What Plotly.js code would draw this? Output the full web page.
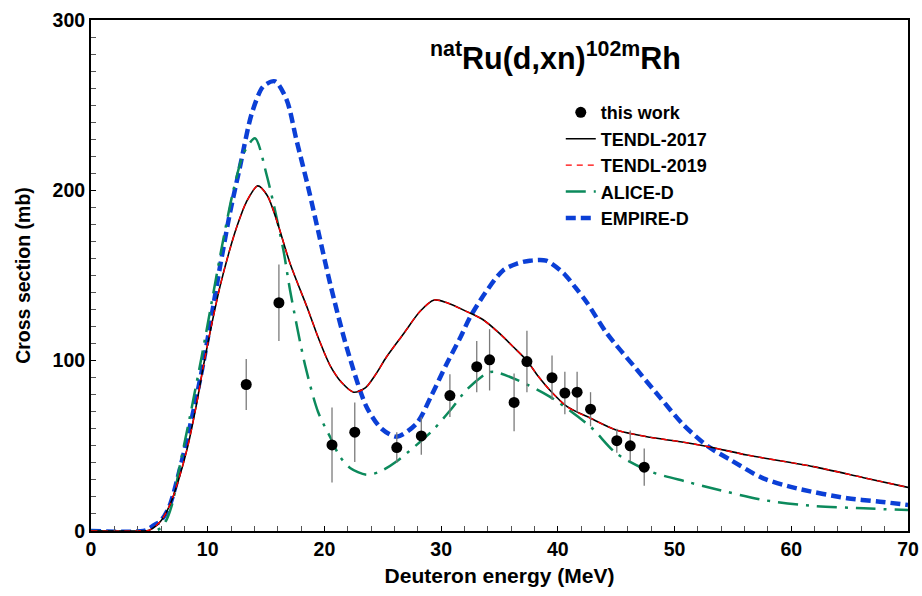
<!DOCTYPE html>
<html>
<head>
<meta charset="utf-8">
<script src="https://cdn.plot.ly/plotly-3.0.1.min.js"></script>
<style>html,body{margin:0;padding:0;background:#fff;}#chart{width:922px;height:596px;}</style>
</head>
<body>
<div id="chart"></div>
<script>
// Experimental data (this work)
const expEnergy = [13.3, 16.1, 20.65, 22.6, 26.2, 28.3, 30.75, 33.05, 34.15, 36.25, 37.35, 39.5, 40.6, 41.65, 42.8, 45.05, 46.2, 47.4];
const expXs     = [86, 134, 50.5, 58, 49, 55.8, 79.5, 96.5, 100.5, 75.5, 99.5, 90, 81, 81.5, 71.5, 53, 50, 37.5];
const expErr    = [15, 22.5, 22, 17.5, 9, 11, 12.5, 15, 18, 17, 18, 13, 12.5, 12, 10, 7, 9, 11];

// TENDL (2017 and 2019 coincide)
const tendlEnergy = [0, 4, 5, 6, 6.8, 7.5, 8.3, 9.0, 9.62, 10.3, 11.05, 11.8, 12.5, 13.3, 14.28, 15.1, 15.9, 17.05, 18.6, 19.5, 20.5, 21.5, 22.5, 23.5, 24.4, 25.3, 26.8, 28.2, 29.4, 30.5, 32.2, 33.6, 35.0, 36.2, 37.3, 38.3, 39.3, 40.8, 42.8, 45.0, 47.9, 50.5, 52.9, 56.2, 61.9, 66.2, 70];
const tendl2017Xs = [0, 0, 0.5, 6, 16, 30, 50, 73, 96.5, 120, 143.5, 163, 178.7, 193, 202.6, 197, 182.6, 157.2, 129.8, 113, 97, 87, 81.5, 84, 92, 102, 116, 129, 135.6, 134, 128.8, 124, 116, 108, 100.4, 91, 82.8, 73, 66.2, 59.3, 55, 52.4, 49.5, 44.6, 37.8, 31.3, 25.6];
const tendl2019Xs = [0, 0, 0.5, 6, 16, 30, 50, 73, 96.5, 120, 143.5, 163, 178.7, 193, 202.6, 197, 182.6, 157.2, 129.8, 113, 97, 87, 81.5, 84, 92, 102, 116, 129, 135.6, 134, 128.8, 124, 116, 108, 100.4, 91, 82.8, 73, 66.2, 59.3, 55, 52.4, 49.5, 44.6, 37.8, 31.3, 25.6];

// ALICE-D
const aliceEnergy = [0, 5.5, 6, 6.5, 7, 7.6, 8.5, 9.48, 10.48, 11.3, 12.2, 13.1, 14.05, 15.05, 16.48, 17.05, 18.34, 19.45, 20.5, 21.3, 22.2, 23.6, 24.8, 26.2, 27.8, 29.3, 30.8, 32.2, 33.9, 34.5, 36.5, 39.3, 42.8, 45, 47.9, 51, 53.3, 57.6, 61.9, 66.2, 70];
const aliceXs     = [0, 0, 2, 7, 17, 38, 68, 102.3, 139.6, 170, 200, 222, 230.6, 209, 165, 141.5, 97.5, 70, 55, 44, 37, 33, 35, 41, 50, 59.3, 71, 83, 92.6, 93.5, 88.7, 78.9, 61.2, 45.6, 35, 29, 25, 18.2, 14.7, 13.3, 12.3];

// EMPIRE-D
const empireEnergy = [0, 4.5, 5.0, 5.4, 5.8, 6.3, 6.8, 7.6, 8.6, 9.62, 11.05, 11.9, 12.77, 13.77, 14.76, 15.77, 16.77, 17.6, 18.6, 19.6, 20.5, 21.9, 23.6, 24.9, 26.2, 27.9, 29.2, 30.5, 31.6, 32.5, 33.8, 35.3, 36.5, 37.6, 39, 40.5, 41.5, 42.5, 44.2, 46.8, 48.8, 50.8, 52.9, 54.8, 57.6, 60.5, 64.8, 67.6, 70];
const empireXs     = [0, 0, 1.5, 3.5, 5, 9, 16, 36, 65, 98.5, 155, 186.5, 214, 245, 261, 264, 253, 229.6, 202, 172, 145, 108, 73, 60, 55.4, 63.2, 80, 98.5, 113, 125.8, 140, 153, 157, 158.7, 158.7, 151.3, 143, 134, 116, 94.5, 78, 62, 49.5, 41.7, 30.9, 25, 19.2, 17.2, 15.3];

const xTickVals = [0, 10, 20, 30, 40, 50, 60, 70];
const yTickVals = [0, 100, 200, 300];

const FONT = "Liberation Sans, Arial, sans-serif";

const traces = [
  {x: empireEnergy, y: empireXs, mode: 'lines', name: 'EMPIRE-D', legendrank: 5,
   line: {color: '#0B3FD6', width: 4.5, dash: '10px,5px', shape: 'spline', smoothing: 0.8}},
  {x: aliceEnergy, y: aliceXs, mode: 'lines', name: 'ALICE-D', legendrank: 4,
   line: {color: '#0C8A5C', width: 2.5, dash: '20px,8px,3px,8px', shape: 'spline', smoothing: 0.8}},
  {x: tendlEnergy, y: tendl2017Xs, mode: 'lines', name: 'TENDL-2017', legendrank: 2,
   line: {color: '#000000', width: 1.6, shape: 'spline', smoothing: 0.8}},
  {x: tendlEnergy, y: tendl2019Xs, mode: 'lines', name: 'TENDL-2019', legendrank: 3,
   line: {color: '#FF0000', width: 1.4, dash: '6px,5px', shape: 'spline', smoothing: 0.8}},
  {x: expEnergy, y: expXs, mode: 'markers', name: 'this work', legendrank: 1,
   marker: {color: '#000000', size: 11, symbol: 'circle'},
   error_y: {type: 'data', array: expErr, visible: true, color: '#7a7a7a', thickness: 1.3, width: 0}}
];

const layout = {
  width: 922, height: 596,
  margin: {l: 91, r: 14, t: 20, b: 65},
  paper_bgcolor: '#ffffff', plot_bgcolor: '#ffffff',
  font: {family: FONT, color: '#000', size: 18, weight: 'bold'},
  showlegend: true,
  legend: {x: 0.575, y: 0.855, xanchor: 'left', yanchor: 'top', bgcolor: 'rgba(0,0,0,0)',
           font: {family: FONT, size: 18, color: '#000', weight: 'bold'}},
  xaxis: {
    range: [0, 70], tickvals: xTickVals, ticktext: xTickVals.map(String),
    ticks: 'inside', ticklen: 5, tickwidth: 1, tickcolor: '#000',
    minor: {dtick: 2, ticks: 'inside', ticklen: 5, tickcolor: '#555', showgrid: false},
    showline: true, linecolor: '#000', linewidth: 2, mirror: true,
    showgrid: false, zeroline: false,
    tickfont: {family: FONT, size: 19.5, color: '#000', weight: 'bold'},
    title: {text: 'Deuteron energy (MeV)', font: {family: FONT, size: 21, color: '#000', weight: 'bold'}, standoff: 9}
  },
  yaxis: {
    range: [0, 300], tickvals: yTickVals, ticktext: yTickVals.map(String),
    ticks: 'inside', ticklen: 5, tickwidth: 1, tickcolor: '#000',
    minor: {dtick: 10, ticks: 'inside', ticklen: 5, tickcolor: '#555', showgrid: false},
    showline: true, linecolor: '#000', linewidth: 2, mirror: true,
    showgrid: false, zeroline: false,
    tickfont: {family: FONT, size: 19.5, color: '#000', weight: 'bold'},
    title: {text: 'Cross section (mb)', font: {family: FONT, size: 19.5, color: '#000', weight: 'bold'}, standoff: 17}
  },
  annotations: [{
    text: '<sup>nat</sup>Ru(d,xn)<sup>102m</sup>Rh', xref: 'paper', yref: 'paper',
    x: 0.568, y: 0.928, xanchor: 'center', yanchor: 'middle', showarrow: false,
    font: {family: FONT, size: 30.5, color: '#000', weight: 'bold'}
  }]
};

Plotly.newPlot('chart', traces, layout, {displayModeBar: false, staticPlot: true});
</script>
</body>
</html>
